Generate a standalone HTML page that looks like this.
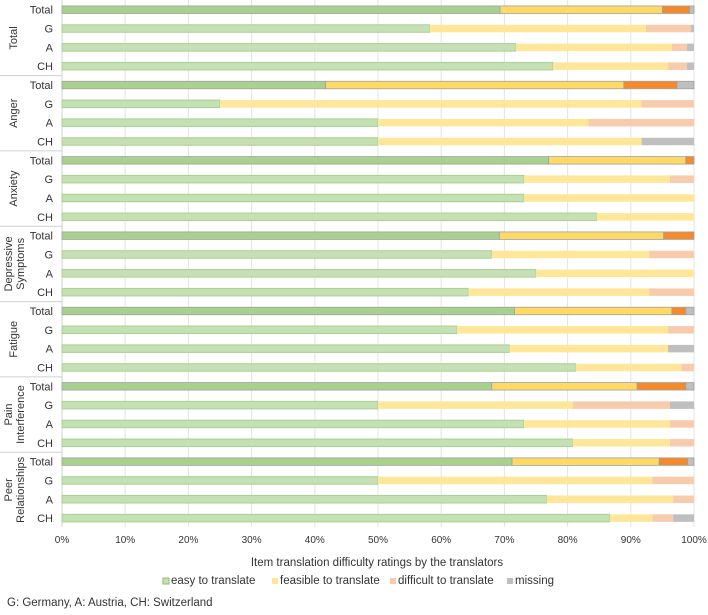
<!DOCTYPE html>
<html><head><meta charset="utf-8"><style>
body{margin:0;background:#fff;font-family:"Liberation Sans",Arial,sans-serif}
svg text{font-family:"Liberation Sans",Arial,sans-serif;fill:#333}
</style></head><body>
<svg id="chart" width="708" height="610" viewBox="0 0 708 610" xmlns="http://www.w3.org/2000/svg"></svg>
<script>
const groups = ["Total","Anger","Anxiety","Depressive Symptoms","Fatigue","Pain Interference","Peer Relationships"];
const subRows = ["Total","G","A","CH"];
const easy = [69.3,58.2,71.8,77.7, 41.7,25,50,50, 77,73.1,73.1,84.6, 69.2,68,75,64.3, 71.6,62.5,70.8,81.3, 68,50,73.1,80.8, 71.2,50,76.7,86.7];
const feasible = [25.7,34.2,24.7,18.2, 47.2,66.7,33.3,41.7, 21.7,23.1,26.9,15.4, 26,24.9,25,28.6, 24.9,33.4,25.1,16.7, 23,30.8,23.1,15.4, 23.3,43.4,20,6.7];
const difficult = [4.3,7.1,2.4,3.0, 8.4,8.3,16.7,0, 1.3,3.8,0,0, 4.8,7.1,0,7.1, 2.2,4.1,0,2, 7.7,15.4,3.8,3.8, 4.5,6.6,3.3,3.3];
const missing = [0.7,0.5,1.1,1.1, 2.7,0,0,8.3, 0,0,0,0, 0,0,0,0, 1.3,0,4.1,0, 1.3,3.8,0,0, 1.0,0,0,3.3];
const ticks = ["0%","10%","20%","30%","40%","50%","60%","70%","80%","90%","100%"];
const seriesNames = ["easy to translate","feasible to translate","difficult to translate","missing"];

const NS="http://www.w3.org/2000/svg";
const svg=document.getElementById('chart');
const X0=62,X1=694,Y0=9.7,STEP=18.83,BH=7.5;
const xs=v=>X0+(X1-X0)*v/100;
const ys=i=>Y0+i*STEP;
function mk(tag,attrs,parent){const e=document.createElementNS(NS,tag);for(const k in attrs)e.setAttribute(k,attrs[k]);(parent||svg).appendChild(e);return e;}

// gridlines
ticks.forEach((t,i)=>{
  const g=mk('line',{x1:xs(i*10),x2:xs(i*10),y1:0,y2:527,stroke:'#e3e3e3','stroke-width':1});
  
  
  const tx=mk('text',{x:xs(i*10),y:543,'text-anchor':'middle','font-size':10});
  tx.textContent=t;
  
  
});

const totalFill=['#a9d18e','#ffd966','#f58a2c','#bfbfbf'];
const subFill=['#c5e0b4','#ffe699','#f8cbad','#bfbfbf'];
const series=[easy,feasible,difficult,missing];

// group labels & separators
groups.forEach((g,gi)=>{
  const top=ys(gi*4)-STEP/2, bot=ys(gi*4+3)+STEP/2;
  if(gi>0){const l=mk('line',{x1:0,x2:X0,y1:top,y2:top,stroke:'#d0d0d0','stroke-width':1});
    }
  const cy=(top+bot)/2;
  const parts=g.split(' ');
  const t=mk('text',{transform:`translate(${parts.length>1?12:17},${cy}) rotate(-90)`,'text-anchor':'middle','font-size':11});
  parts.forEach((p,pi)=>{const ts=mk('tspan',{x:0,dy:pi==0?0:12},t);ts.textContent=p;});
  
  
});
mk('line',{x1:X0,x2:X0,y1:0,y2:527,stroke:'#d0d0d0','stroke-width':1});

// bars
for(let r=0;r<easy.length;r++){
  const isT=r%4===0, y=ys(r);
  const lab=mk('text',{x:53,y:y+4,'text-anchor':'end','font-size':11});
  lab.textContent=subRows[r%4];
  
  
  let acc=0;
  series.forEach((s,si)=>{
    const v=s[r]; if(v<=0){return;}
    const b=mk('rect',{x:xs(acc),y:y-BH/2,width:xs(acc+v)-xs(acc),height:BH,
      fill:isT?totalFill[si]:subFill[si],
      stroke:isT?'#a0a0a0':(si===0?'#a9d18e':'none'),'stroke-width':isT?0.8:1});
    
    
    acc+=v;
  });
}

const at=mk('text',{x:377,y:566,'text-anchor':'middle','font-size':11.5});
at.textContent='Item translation difficulty ratings by the translators';



const lx=[163,272,390,507];
seriesNames.forEach((n,i)=>{
  const m=mk('rect',{x:lx[i],y:578,width:6,height:6,fill:subFill[i],stroke:i===0?'#8cbf6c':'none'});
  
  
  const t=mk('text',{x:lx[i]+8,y:584,'font-size':11.5});
  t.textContent=n;
  
  
});
const fn=mk('text',{x:7,y:606,'font-size':11.5});
fn.textContent='G: Germany, A: Austria, CH: Switzerland';


</script>
</body></html>
